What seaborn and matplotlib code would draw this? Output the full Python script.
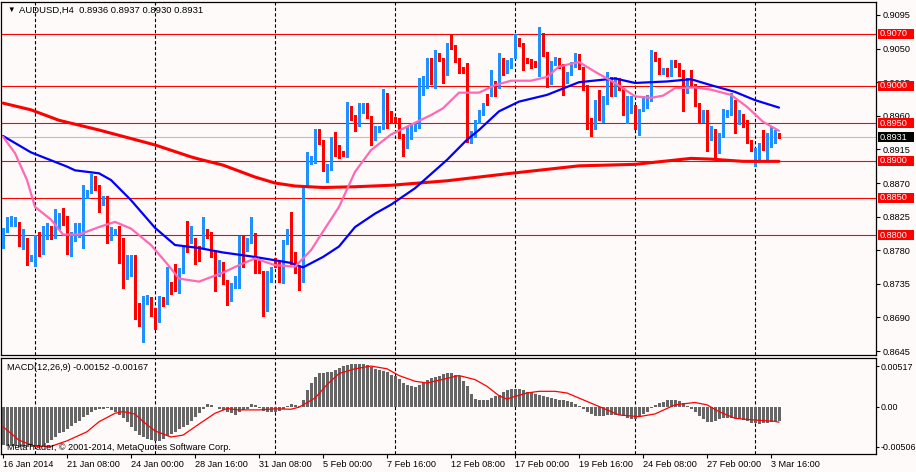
import numpy as np
import matplotlib
matplotlib.use("Agg")
import matplotlib.pyplot as plt
import seaborn as sns
from matplotlib.patches import Rectangle
from matplotlib.transforms import blended_transform_factory

sns.set_style("white")
plt.rcParams['font.family'] = ['Liberation Sans', 'DejaVu Sans']

# ---------------- DATA ----------------
title_text = "AUDUSD,H4  0.8936 0.8937 0.8930 0.8931"
macd_text = "MACD(12,26,9) -0.00152 -0.00167"
copyright_text = "MetaTrader, \u00a9 2001-2014, MetaQuotes Software Corp."

open_ = [0.8784,0.8806,0.8819,0.8813,0.8816,0.8788,0.8795,0.8766,0.8771,0.8780,
         0.8776,0.8806,0.8808,0.8799,0.8809,0.8828,0.8816,0.8779,0.8801,0.8800,
         0.8803,0.8854,0.8858,0.8875,0.8865,0.8843,0.8850,0.8796,0.8804,0.8808,
         0.8796,0.8746,0.8766,0.8768,0.8705,0.8684,0.8711,0.8716,0.8692,0.8686,
         0.8716,0.8710,0.8736,0.8737,0.8739,0.8752,0.8793,0.8792,0.8795,0.8781,
         0.8785,0.8803,0.8799,0.8775,0.8747,0.8762,0.8738,0.8715,0.8731,0.8736,
         0.8795,0.8781,0.8792,0.8801,0.8765,0.8749,0.8701,0.8750,0.8766,0.8764,
         0.8754,0.8790,0.8796,0.8776,0.8752,0.8739,0.8866,0.8899,0.8899,0.8935,
         0.8925,0.8889,0.8890,0.8930,0.8915,0.8911,0.8907,0.8967,0.8959,0.8948,
         0.8966,0.8975,0.8958,0.8938,0.8940,0.8944,0.8987,0.8957,0.8956,0.8955,
         0.8933,0.8930,0.8931,0.8943,0.8946,0.8990,0.8999,0.9030,0.9028,0.9042,
         0.9036,0.9017,0.9057,0.9053,0.9036,0.9024,0.9024,0.8925,0.8934,0.8952,
         0.8963,0.8987,0.8988,0.8999,0.8999,0.9028,0.9019,0.9026,0.9061,0.9062,
         0.9055,0.9036,0.9034,0.9032,0.9031,0.9067,0.9044,0.9004,0.9030,0.9036,
         0.9028,0.9006,0.9016,0.9028,0.9030,0.9024,0.8999,0.8955,0.8950,0.8972,
         0.8954,0.8978,0.9004,0.8988,0.9001,0.8995,0.8961,0.8966,0.8973,0.8945,
         0.8968,0.8973,0.8982,0.9043,0.9036,0.9018,0.9022,0.9015,0.9033,0.9027,
         0.9019,0.8992,0.9010,0.9001,0.8975,0.8954,0.8966,0.8933,0.8939,0.8923,
         0.8934,0.8960,0.8963,0.8976,0.8951,0.8961,0.8952,0.8925,0.8894,0.8903,
         0.8923,0.8919,0.8920,0.8925,0.8936]
high_ = [0.8810,0.8824,0.8826,0.8824,0.8818,0.8808,0.8797,0.8774,0.8801,0.8804,
         0.8813,0.8817,0.8813,0.8835,0.8830,0.8836,0.8826,0.8804,0.8817,0.8817,
         0.8868,0.8860,0.8882,0.8880,0.8868,0.8852,0.8852,0.8811,0.8808,0.8812,
         0.8797,0.8773,0.8773,0.8773,0.8710,0.8719,0.8720,0.8718,0.8703,0.8719,
         0.8718,0.8757,0.8738,0.8761,0.8756,0.8787,0.8819,0.8812,0.8797,0.8785,
         0.8824,0.8808,0.8805,0.8777,0.8767,0.8764,0.8740,0.8736,0.8745,0.8799,
         0.8799,0.8796,0.8824,0.8803,0.8767,0.8752,0.8752,0.8758,0.8770,0.8766,
         0.8794,0.8808,0.8831,0.8778,0.8758,0.8868,0.8912,0.8906,0.8942,0.8942,
         0.8927,0.8895,0.8932,0.8938,0.8921,0.8913,0.8979,0.8973,0.8961,0.8977,
         0.8977,0.8977,0.8960,0.8946,0.8946,0.8996,0.8990,0.8967,0.8958,0.8957,
         0.8935,0.8946,0.8948,0.8950,0.9010,0.9013,0.9037,0.9037,0.9048,0.9044,
         0.9038,0.9057,0.9068,0.9055,0.9038,0.9026,0.9031,0.8940,0.8954,0.8968,
         0.8977,0.8989,0.9021,0.9006,0.9044,0.9037,0.9035,0.9037,0.9070,0.9064,
         0.9057,0.9038,0.9036,0.9034,0.9079,0.9071,0.9046,0.9033,0.9039,0.9037,
         0.9030,0.9018,0.9032,0.9044,0.9043,0.9026,0.9001,0.8957,0.8981,0.8995,
         0.8986,0.9019,0.9012,0.9012,0.9010,0.8997,0.8987,0.8986,0.8975,0.8969,
         0.8986,0.8988,0.9048,0.9045,0.9038,0.9024,0.9024,0.9035,0.9035,0.9031,
         0.9021,0.9010,0.9022,0.9003,0.8977,0.8968,0.8968,0.8946,0.8943,0.8937,
         0.8969,0.8968,0.8990,0.8981,0.8968,0.8963,0.8954,0.8927,0.8917,0.8923,
         0.8941,0.8937,0.8947,0.8941,0.8937]
low_ = [0.8783,0.8804,0.8813,0.8812,0.8786,0.8781,0.8760,0.8765,0.8759,0.8772,
        0.8775,0.8795,0.8795,0.8797,0.8808,0.8814,0.8775,0.8772,0.8792,0.8798,
        0.8783,0.8850,0.8856,0.8860,0.8831,0.8840,0.8790,0.8794,0.8800,0.8763,
        0.8730,0.8741,0.8746,0.8688,0.8679,0.8657,0.8708,0.8692,0.8675,0.8684,
        0.8705,0.8708,0.8721,0.8726,0.8723,0.8750,0.8777,0.8790,0.8761,0.8765,
        0.8783,0.8797,0.8771,0.8725,0.8745,0.8735,0.8706,0.8712,0.8729,0.8729,
        0.8758,0.8779,0.8790,0.8749,0.8749,0.8692,0.8698,0.8738,0.8758,0.8738,
        0.8736,0.8788,0.8761,0.8749,0.8727,0.8737,0.8864,0.8895,0.8897,0.8922,
        0.8886,0.8872,0.8888,0.8906,0.8904,0.8906,0.8905,0.8955,0.8939,0.8946,
        0.8964,0.8957,0.8921,0.8928,0.8938,0.8942,0.8944,0.8950,0.8952,0.8930,
        0.8906,0.8917,0.8929,0.8940,0.8944,0.8988,0.8997,0.9002,0.8997,0.9033,
        0.9004,0.9015,0.9050,0.9032,0.9017,0.9017,0.8925,0.8923,0.8932,0.8950,
        0.8961,0.8974,0.8986,0.8986,0.8997,0.9015,0.9017,0.9024,0.9037,0.9053,
        0.9021,0.9031,0.9024,0.9026,0.9013,0.9040,0.8999,0.9002,0.9028,0.9024,
        0.8988,0.9004,0.9014,0.9026,0.9023,0.8995,0.8943,0.8933,0.8943,0.8954,
        0.8952,0.8976,0.8986,0.8986,0.8994,0.8961,0.8951,0.8964,0.8943,0.8934,
        0.8966,0.8971,0.8980,0.9033,0.9016,0.9016,0.9013,0.9013,0.9025,0.9013,
        0.8966,0.8990,0.8999,0.8973,0.8952,0.8952,0.8913,0.8928,0.8903,0.8910,
        0.8932,0.8958,0.8961,0.8937,0.8949,0.8945,0.8923,0.8913,0.8893,0.8899,
        0.8914,0.8901,0.8918,0.8923,0.8930]
close_ = [0.8808,0.8820,0.8820,0.8822,0.8787,0.8797,0.8767,0.8772,0.8780,0.8775,
          0.8808,0.8808,0.8798,0.8810,0.8827,0.8816,0.8780,0.8800,0.8803,0.8804,
          0.8856,0.8856,0.8875,0.8866,0.8845,0.8850,0.8792,0.8803,0.8807,0.8796,
          0.8746,0.8768,0.8767,0.8702,0.8685,0.8710,0.8716,0.8692,0.8685,0.8715,
          0.8709,0.8737,0.8729,0.8728,0.8754,0.8778,0.8779,0.8794,0.8776,0.8776,
          0.8804,0.8799,0.8773,0.8745,0.8764,0.8736,0.8714,0.8731,0.8736,0.8795,
          0.8761,0.8792,0.8799,0.8750,0.8750,0.8703,0.8747,0.8752,0.8762,0.8752,
          0.8792,0.8799,0.8774,0.8750,0.8741,0.8867,0.8899,0.8901,0.8935,0.8924,
          0.8890,0.8892,0.8930,0.8908,0.8908,0.8908,0.8966,0.8957,0.8949,0.8968,
          0.8975,0.8959,0.8938,0.8942,0.8944,0.8986,0.8946,0.8955,0.8954,0.8934,
          0.8930,0.8941,0.8946,0.8948,0.8997,0.8999,0.9028,0.9004,0.9046,0.9035,
          0.9017,0.9055,0.9052,0.9034,0.9019,0.9019,0.8930,0.8937,0.8952,0.8967,
          0.8975,0.8976,0.9006,0.8989,0.9026,0.9021,0.9026,0.9035,0.9064,0.9055,
          0.9034,0.9033,0.9025,0.9028,0.9067,0.9042,0.9031,0.9031,0.9038,0.9026,
          0.9006,0.9016,0.9030,0.9042,0.9025,0.8998,0.8952,0.8952,0.8973,0.8969,
          0.8979,0.9004,0.8988,0.9008,0.8996,0.8961,0.8966,0.8973,0.8946,0.8966,
          0.8973,0.8986,0.9042,0.9035,0.9018,0.9022,0.9015,0.9034,0.9027,0.9017,
          0.8992,0.9008,0.9001,0.8975,0.8954,0.8966,0.8934,0.8940,0.8925,0.8934,
          0.8961,0.8963,0.8975,0.8951,0.8963,0.8952,0.8924,0.8921,0.8903,0.8922,
          0.8917,0.8921,0.8925,0.8934,0.8931]

# moving averages, read at sample bars
ma_slow_idx = [0,7,14,24,38,47,49,55,63,68,73,80,88,97,111,127,144,158,172,177,185,194]
ma_slow_val = [0.8977,0.8968,0.8954,0.8941,0.8921,0.8905,0.8902,0.8894,0.8878,0.8870,0.8866,
               0.8864,0.8865,0.8867,0.8873,0.8883,0.8893,0.8895,0.8903,0.8902,0.8899,0.8899]
ma_mid_idx = [0,7,16,18,24,27,32,38,43,49,55,63,72,75,80,84,88,93,97,103,111,116,119,124,
              129,136,144,153,158,166,172,177,183,188,194]
ma_mid_val = [0.8933,0.8911,0.8892,0.8887,0.8883,0.8874,0.8847,0.8810,0.8787,0.8783,0.8777,
              0.8771,0.8763,0.8757,0.8771,0.8785,0.8811,0.8829,0.8841,0.8863,0.8901,0.8928,
              0.8941,0.8966,0.8979,0.8988,0.9005,0.9010,0.9004,0.9006,0.9009,0.9001,0.8992,
              0.8981,0.8971]
ma_fast_idx = [0,3,6,8,12,15,19,24,28,32,37,41,44,49,55,59,63,68,73,77,80,84,88,92,97,102,
               107,110,114,119,123,127,132,136,139,144,148,153,158,162,165,168,173,177,182,
               186,190,194]
ma_fast_val = [0.8932,0.8910,0.8874,0.8838,0.8821,0.8801,0.8801,0.8811,0.8818,0.8809,0.8787,
               0.8762,0.8742,0.8738,0.8750,0.8760,0.8769,0.8760,0.8758,0.8780,0.8805,0.8838,
               0.8885,0.8914,0.8935,0.8948,0.8961,0.8970,0.8991,0.8991,0.9001,0.9007,0.9007,
               0.9012,0.9026,0.9032,0.9019,0.9004,0.8986,0.8984,0.8987,0.8997,0.8998,0.8995,
               0.8988,0.8972,0.8952,0.8940]

macd_hist = [-0.00413,-0.00420,-0.00424,-0.00424,-0.00431,-0.00431,-0.00434,-0.00434,-0.00431,-0.00424,
             -0.00413,-0.00388,-0.00352,-0.00323,-0.00287,-0.00269,-0.00244,-0.00208,-0.00180,-0.00151,
             -0.00115,-0.00090,-0.00057,-0.00039,-0.00029,-0.00022,-0.00018,-0.00036,-0.00057,-0.00090,
             -0.00126,-0.00162,-0.00215,-0.00258,-0.00305,-0.00330,-0.00344,-0.00359,-0.00366,-0.00366,
             -0.00344,-0.00316,-0.00294,-0.00269,-0.00244,-0.00223,-0.00197,-0.00151,-0.00108,-0.00072,
             -0.00029,0.00025,0.00018,-0.00007,-0.00022,-0.00036,-0.00057,-0.00072,-0.00086,-0.00057,
             -0.00036,-0.00022,0.00022,0.00018,-0.00018,-0.00050,-0.00057,-0.00061,-0.00057,-0.00043,
             -0.00029,0.00007,0.00025,0.00018,0.00007,0.00072,0.00172,0.00251,0.00316,0.00352,
             0.00359,0.00366,0.00373,0.00388,0.00409,0.00431,0.00442,0.00449,0.00449,0.00449,
             0.00449,0.00445,0.00424,0.00402,0.00388,0.00381,0.00366,0.00341,0.00323,0.00294,
             0.00251,0.00230,0.00215,0.00208,0.00230,0.00258,0.00280,0.00302,0.00316,0.00330,
             0.00345,0.00352,0.00359,0.00341,0.00323,0.00269,0.00215,0.00136,0.00079,0.00072,
             0.00065,0.00072,0.00093,0.00108,0.00126,0.00151,0.00172,0.00187,0.00190,0.00187,
             0.00172,0.00158,0.00151,0.00136,0.00122,0.00108,0.00101,0.00090,0.00079,0.00072,
             0.00065,0.00054,0.00043,0.00025,0.00007,-0.00022,-0.00057,-0.00083,-0.00097,-0.00104,
             -0.00101,-0.00093,-0.00086,-0.00086,-0.00090,-0.00101,-0.00118,-0.00129,-0.00133,-0.00108,
             -0.00083,-0.00057,-0.00018,0.00014,0.00036,0.00050,0.00065,0.00072,0.00072,0.00061,
             0.00036,0.00007,-0.00022,-0.00057,-0.00101,-0.00136,-0.00162,-0.00165,-0.00151,-0.00136,
             -0.00126,-0.00126,-0.00126,-0.00126,-0.00133,-0.00144,-0.00158,-0.00172,-0.00180,-0.00183,
             -0.00180,-0.00172,-0.00165,-0.00158,-0.00152]
signal_idx = [0,4,8,12,16,21,24,28,30,33,35,38,42,45,49,53,56,59,64,68,72,74,78,81,84,88,92,96,
              99,103,106,109,114,118,121,124,126,128,131,134,138,141,144,148,151,154,159,163,
              168,173,176,179,183,188,193,194]
signal_val = [-0.00215,-0.00359,-0.00424,-0.00424,-0.00366,-0.00269,-0.00162,-0.00072,-0.00054,
              -0.00080,-0.00160,-0.00260,-0.00325,-0.00305,-0.00187,-0.00072,-0.00022,-0.00036,
              -0.00036,-0.00025,-0.00029,-0.00007,0.00090,0.00233,0.00352,0.00402,0.00431,0.00402,
              0.00330,0.00269,0.00251,0.00280,0.00330,0.00287,0.00215,0.00115,0.00079,0.00108,
              0.00144,0.00162,0.00162,0.00144,0.00090,0.00018,-0.00036,-0.00090,-0.00108,-0.00079,
              0.00018,0.00043,0.00018,-0.00054,-0.00126,-0.00144,-0.00158,-0.00167]

level_values = [0.9070, 0.9000, 0.8950, 0.8900, 0.8850, 0.8800]
last_price = 0.8931
price_ticks = [0.9095, 0.9050, 0.9005, 0.8960, 0.8915, 0.8870, 0.8825, 0.8780, 0.8735, 0.8690, 0.8645]
macd_tick_labels = ["0.00517", "0.00", "-0.00506"]
separator_idx = [8, 38, 68, 98, 128, 158, 188]
date_idx = [0, 16, 32, 48, 64, 80, 96, 112, 128, 144, 160, 176, 192]
date_labels = ["16 Jan 2014", "21 Jan 08:00", "24 Jan 00:00", "28 Jan 16:00", "31 Jan 08:00",
               "5 Feb 00:00", "7 Feb 16:00", "12 Feb 08:00", "17 Feb 00:00", "19 Feb 16:00",
               "24 Feb 08:00", "27 Feb 00:00", "3 Mar 16:00"]

# ---------------- FIGURE ----------------
BG = '#FFFAFA'
W, H = 916, 472
fig = plt.figure(figsize=(W / 100, H / 100), dpi=100, facecolor=BG)

def rect(x0, y0, x1, y1):
    return [x0 / W, 1 - y1 / H, (x1 - x0) / W, (y1 - y0) / H]

ax = fig.add_axes(rect(1, 2, 876, 355), facecolor=BG)
axm = fig.add_axes(rect(1, 358, 876, 454), facecolor=BG)
FS = 6.6
XLIM = (-0.5, 218.25)

# candles
idx = np.arange(len(open_))
o = np.array(open_); c = np.array(close_); h = np.array(high_); l = np.array(low_)
colors = np.where(c >= o, '#1E90FF', '#FF0000')
ax.vlines(idx, l, h, colors=colors, lw=0.75, zorder=3, antialiased=False)
ax.bar(idx, np.maximum(np.abs(c - o), 0.0001), bottom=np.minimum(o, c), width=0.75,
       color=colors, linewidth=0, zorder=3, antialiased=False)

# horizontal levels and last price
for lv in level_values:
    ax.axhline(lv, color='#FF0000', lw=0.8, zorder=2)
ax.axhline(last_price, color='#C0C0C0', lw=0.8, zorder=1)

# moving averages
sns.lineplot(x=ma_slow_idx, y=ma_slow_val, ax=ax, color='#FF0000', lw=2.2,
             estimator=None, sort=False, zorder=4)
sns.lineplot(x=ma_mid_idx, y=ma_mid_val, ax=ax, color='#0000FF', lw=1.6,
             estimator=None, sort=False, zorder=4)
sns.lineplot(x=ma_fast_idx, y=ma_fast_val, ax=ax, color='#FF69B4', lw=1.6,
             estimator=None, sort=False, zorder=4)

# separators
for a in (ax, axm):
    for s in separator_idx:
        a.axvline(s, color='black', lw=0.8, ls=(0, (3, 2)), zorder=1.5)

ax.set_xlim(*XLIM)
ax.set_ylim(0.86397, 0.91124)
ax.set_xticks([])
ax.yaxis.tick_right()
ax.set_yticks(price_ticks)
ax.set_yticklabels([f"{v:.4f}" for v in price_ticks])
ax.tick_params(axis='y', length=3, width=0.8, pad=2, labelsize=FS, colors='black', right=True)
ax.set_xlabel(''); ax.set_ylabel('')

# price boxes
trans = blended_transform_factory(ax.transAxes, ax.transData)
px = (0.91124 - 0.86397) / 353.0
bx0 = 877 / 875.0
bw = 36 / 875.0
for lv, fc in [(v, '#FF0000') for v in level_values] + [(last_price, '#000000')]:
    ax.add_patch(Rectangle((bx0, lv - 5 * px), bw, 10 * px, transform=trans,
                           facecolor=fc, edgecolor='none', clip_on=False, zorder=5))
    ax.text(bx0 + 2 / 875.0, lv, f"{lv:.4f}", transform=trans, ha='left', va='center',
            color='white', fontsize=FS, zorder=6, clip_on=False)

# MACD panel
sns.barplot(x=idx, y=macd_hist, ax=axm, native_scale=True, color='#666666', width=0.75,
            errorbar=None, saturation=1, linewidth=0, zorder=2, antialiased=False)
sns.lineplot(x=signal_idx, y=signal_val, ax=axm, color='#FF0000', lw=0.9,
             estimator=None, sort=False, zorder=3)
axm.set_xlim(*XLIM)
axm.set_ylim(-0.00506, 0.00517)
axm.yaxis.tick_right()
axm.set_yticks([0.00428, 0.0, -0.00431])
axm.set_yticklabels(macd_tick_labels)
axm.tick_params(axis='y', length=2, width=0.8, pad=1, labelsize=6.4, colors='black', right=True)
axm.set_xticks(date_idx)
axm.set_xticklabels(date_labels, ha='left')
axm.tick_params(axis='x', length=3, width=0.8, pad=1.5, labelsize=FS, colors='black', bottom=True)
axm.set_xlabel(''); axm.set_ylabel('')

for a in (ax, axm):
    for sp in a.spines.values():
        sp.set_color('black')
        sp.set_linewidth(0.9)
        sp.set_visible(True)

# texts
fig.text(7 / W, 1 - 10 / H, '\u25bc', fontsize=5.5, va='center', ha='left', color='black')
fig.text(19 / W, 1 - 10 / H, title_text, fontsize=6.8, va='center', ha='left', color='black')
fig.text(7 / W, 1 - 367 / H, macd_text, fontsize=FS, va='center', ha='left', color='black')
fig.text(7 / W, 1 - 447 / H, copyright_text, fontsize=FS, va='center', ha='left', color='black')

fig.savefig('out.png', dpi=100, facecolor=BG)
